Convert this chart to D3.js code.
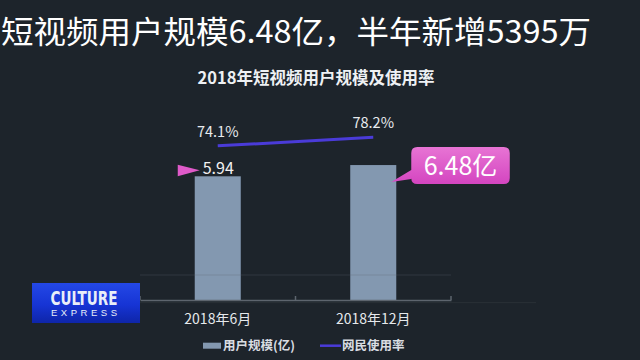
<!DOCTYPE html>
<html><head><meta charset="utf-8">
<script src="https://cdn.jsdelivr.net/npm/d3@7"></script>
<style>
html,body{margin:0;padding:0;background:#1d242b;}
svg{display:block;}
</style></head>
<body>
<svg id="c" width="640" height="360"></svg>
<script>
const headline = "短视频用户规模6.48亿，半年新增5395万";
const chartTitle = "2018年短视频用户规模及使用率";
const categories = ["2018年6月", "2018年12月"];
const users = [5.94, 6.48];          // 用户规模(亿)
const rates = [74.1, 78.2];          // 网民使用率 (%)
const legendLabels = ["用户规模(亿)", "网民使用率"];
const highlightLabel = "6.48亿";

const W = 640, H = 360;
const svg = d3.select("#c");
const CJK = "'Noto Sans CJK SC','Noto Sans',sans-serif";
const barColor = "#8398b0", lineColor = "#4a3bd8", pink = "#df5ac9";

const defs = svg.append("defs");
const pg = defs.append("linearGradient").attr("id","pg").attr("x1",0).attr("y1",0).attr("x2",0).attr("y2",1);
pg.append("stop").attr("offset","0%").attr("stop-color","#e774d4");
pg.append("stop").attr("offset","100%").attr("stop-color","#d445c0");
const bg = defs.append("linearGradient").attr("id","bg").attr("x1",0).attr("y1",0).attr("x2",0).attr("y2",1);
bg.append("stop").attr("offset","0%").attr("stop-color","#2448e6");
bg.append("stop").attr("offset","55%").attr("stop-color","#1634d4");
bg.append("stop").attr("offset","100%").attr("stop-color","#0e25a8");

svg.append("rect").attr("width",W).attr("height",H).attr("fill","#1d242b");

// headline
svg.append("text").attr("x",1).attr("y",43)
  .attr("font-family",CJK).attr("font-size",31).attr("fill","#ffffff")
  .attr("textLength",590).attr("lengthAdjust","spacingAndGlyphs")
  .text(headline);

// chart title
svg.append("text").attr("x",316).attr("y",84).attr("text-anchor","middle")
  .attr("font-family",CJK).attr("font-size",16.5).attr("font-weight","bold").attr("fill","#eef1f4")
  .text(chartTitle);

// scales
const x = d3.scaleBand().domain(categories).range([140,451]).paddingInner(0.704).paddingOuter(0.352);
const y = d3.scaleLinear().domain([0,8]).range([300,133.4]);
const y2 = d3.scaleLinear().domain([0,100]).range([300,92]);
const cx = d => x(d) + x.bandwidth()/2;

// faint baseline extension
svg.append("line").attr("x1",140).attr("x2",536).attr("y1",302.7).attr("y2",302.7)
  .attr("stroke","#ffffff").attr("stroke-opacity",0.06).attr("stroke-width",1);

// bars
svg.append("g").selectAll("rect").data(categories).join("rect")
  .attr("x",d=>x(d)).attr("width",x.bandwidth())
  .attr("y",(d,i)=>y(users[i])).attr("height",(d,i)=>y(0)-y(users[i]))
  .attr("fill",barColor);

// faint grid line
svg.append("line").attr("x1",140).attr("x2",451).attr("y1",275).attr("y2",275)
  .attr("stroke","#5c6772").attr("stroke-opacity",0.3).attr("stroke-width",1);

// x axis
const ax = svg.append("g").attr("transform","translate(0,300)")
  .call(d3.axisBottom(x).tickSize(0).tickPadding(14));
ax.select(".domain").attr("stroke","#5d656e").attr("stroke-width",1.5);
ax.selectAll("text").attr("font-family",CJK).attr("font-size",14).attr("fill","#e6e9ec");
const gap = x.step()*x.paddingInner();
const bounds = [x(categories[0]) - gap/2].concat(categories.map(d => x(d) + x.bandwidth() + gap/2));
svg.append("g").selectAll("line").data(bounds).join("line")
  .attr("x1",d=>d).attr("x2",d=>d).attr("y1",296).attr("y2",300)
  .attr("stroke","#5d656e").attr("stroke-width",1.5);

// rate line
const line = d3.line().x((d,i)=>cx(categories[i])).y(d=>y2(d));
svg.append("path").datum(rates).attr("d",line).attr("fill","none")
  .attr("stroke",lineColor).attr("stroke-width",3);
svg.append("g").selectAll("text").data(rates).join("text")
  .attr("x",(d,i)=>cx(categories[i])).attr("y",d=>y2(d)-9)
  .attr("text-anchor","middle").attr("font-family",CJK).attr("font-size",14.5).attr("fill","#e8ebee")
  .text(d=>d.toFixed(1)+"%");

// 5.94 label with triangle
const x0 = x(categories[0]), yb0 = y(users[0]);
svg.append("path")
  .attr("d",`M${x0-17},${yb0-11.5}L${x0+5},${yb0-6}L${x0-17},${yb0}Z`)
  .attr("fill",pink);
svg.append("text").attr("x",x0+8).attr("y",yb0-2).attr("font-family",CJK).attr("font-size",16)
  .attr("fill","#f2f2f2").text(users[0].toFixed(2));

// 6.48亿 callout
const x1 = x(categories[1]) + x.bandwidth(), yb1 = y(users[1]);
const bx = x1 + 15, by = yb1 - 18, bw = 98.5, bh = 37, r = 6;
const p = d3.path();
p.moveTo(bx+r, by);
p.lineTo(bx+bw-r, by); p.quadraticCurveTo(bx+bw, by, bx+bw, by+r);
p.lineTo(bx+bw, by+bh-r); p.quadraticCurveTo(bx+bw, by+bh, bx+bw-r, by+bh);
p.lineTo(bx+r, by+bh); p.quadraticCurveTo(bx, by+bh, bx, by+bh-r);
p.lineTo(bx, by+bh-5); p.lineTo(x1-5, yb1+17); p.lineTo(bx, by+bh-14);
p.lineTo(bx, by+r); p.quadraticCurveTo(bx, by, bx+r, by);
p.closePath();
svg.append("path").attr("d",p.toString()).attr("fill","url(#pg)");
svg.append("text").attr("x",bx+bw/2).attr("y",by+bh/2+9).attr("text-anchor","middle")
  .attr("font-family",CJK).attr("font-size",25).attr("fill","#ffffff").text(highlightLabel);

// legend
const lg = svg.append("g").attr("font-family",CJK).attr("font-size",12.5).attr("font-weight","bold").attr("fill","#d9dde2");
lg.append("rect").attr("x",203).attr("y",342.7).attr("width",18).attr("height",6).attr("fill",barColor);
lg.append("text").attr("x",223).attr("y",350).text(legendLabels[0]);
lg.append("line").attr("x1",320).attr("x2",341).attr("y1",345.7).attr("y2",345.7).attr("stroke",lineColor).attr("stroke-width",2.5);
lg.append("text").attr("x",342).attr("y",350).text(legendLabels[1]);

// channel logo
const logo = svg.append("g");
logo.append("rect").attr("x",32).attr("y",283).attr("width",108).attr("height",40).attr("fill","url(#bg)");
logo.append("text").attr("x",84).attr("y",304.5).attr("text-anchor","middle")
  .attr("font-family","'Liberation Sans Narrow','DejaVu Sans Condensed',sans-serif").attr("font-weight","bold")
  .attr("font-size",19).attr("fill","#e9eef8").attr("textLength",67).attr("lengthAdjust","spacingAndGlyphs").text("CULTURE");
logo.append("text").attr("x",84).attr("y",316).attr("text-anchor","middle")
  .attr("font-family","'Liberation Sans','DejaVu Sans',sans-serif")
  .attr("font-size",9.5).attr("fill","#e9eef8").attr("textLength",66).attr("lengthAdjust","spacing").text("EXPRESS");
</script>
</body></html>
